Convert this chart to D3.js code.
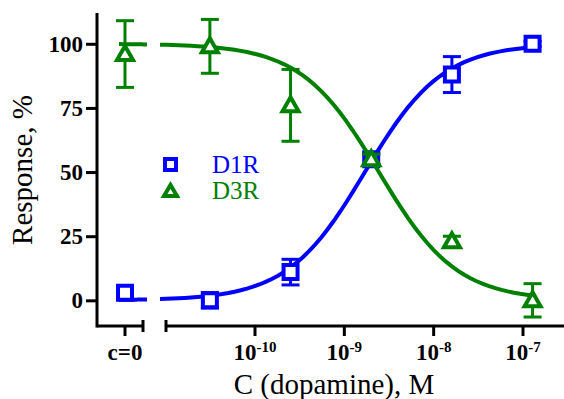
<!DOCTYPE html>
<html>
<head>
<meta charset="utf-8">
<script src="https://cdn.jsdelivr.net/npm/d3@7"></script>
<style>
  body { margin: 0; background: #fff; }
</style>
</head>
<body>
<script>
// dopamine concentrations, M (8-fold dilutions)
var concs = [3.125e-11, 2.5e-10, 2e-9, 1.6e-8, 1.28e-7];

// D1R response, %
var d1Zero = 3, d1ZeroErr = 1;
var d1Mean = [0, 11, 55, 88, 100];
var d1Err = [3, 5, 2, 7, 1];

// D3R response, %
var d3Zero = 96, d3ZeroErr = 13;
var d3Mean = [99, 76, 55, 23, 0];
var d3Err = [10.5, 14, 2, 2, 6.5];

// fitted dose-response parameters [bottom, top, logEC50, hill]
var d1Fit = [0, 100, -8.77, 1];
var d3Fit = [0, 100, -8.613, -1];

var yTicks = [0, 25, 50, 75, 100];
var xTicks = [1e-10, 1e-9, 1e-8, 1e-7];
var xTickExp = ['-10', '-9', '-8', '-7'];

var blue = '#0000ff', green = '#008000';
var serif = 'Liberation Serif';

var width = 564, height = 399;
var svg = d3.select('body').append('svg')
  .attr('width', width)
  .attr('height', height)
  .attr('font-family', serif);

var y = d3.scaleLinear().domain([-10, 112]).range([326, 13]);
var x = d3.scaleLog().domain([1e-10, 1e-7]).range([255, 523]);

// c=0 sits on the broken-off left part of the axis
var zeroX = 125;
var axisLeft = 97, breakL = 143, breakR = 166;
var axisY = y(-10);

// y axis
var yAxis = svg.append('g')
  .attr('transform', 'translate(' + axisLeft + ',0)')
  .call(d3.axisLeft(y).tickValues(yTicks).tickSize(11).tickPadding(3));
yAxis.attr('font-family', serif);
yAxis.select('.domain').remove();
yAxis.selectAll('line').attr('stroke-width', 3);
yAxis.selectAll('text')
  .attr('font-family', serif)
  .attr('font-size', 23).attr('font-weight', 'bold').attr('fill', '#000');
svg.append('line')
  .attr('x1', axisLeft).attr('x2', axisLeft)
  .attr('y1', y(112)).attr('y2', axisY + 1.5)
  .attr('stroke', '#000').attr('stroke-width', 3);

// x axis (broken)
var xa = svg.append('g').attr('stroke', '#000').attr('stroke-width', 3);
xa.append('line').attr('x1', axisLeft).attr('x2', breakL).attr('y1', axisY).attr('y2', axisY);
xa.append('line').attr('x1', breakR).attr('x2', width).attr('y1', axisY).attr('y2', axisY);
[breakL, breakR].forEach(function(bx) {
  xa.append('line').attr('x1', bx).attr('x2', bx).attr('y1', axisY - 6).attr('y2', axisY + 6);
});
xa.append('line').attr('x1', zeroX).attr('x2', zeroX).attr('y1', axisY).attr('y2', axisY + 10);
xTicks.forEach(function(t) {
  xa.append('line').attr('x1', x(t)).attr('x2', x(t)).attr('y1', axisY).attr('y2', axisY + 10);
});

svg.append('text')
  .attr('x', zeroX).attr('y', 360)
  .attr('text-anchor', 'middle')
  .attr('font-family', serif)
  .attr('font-size', 23).attr('font-weight', 'bold')
  .text('c=0');

xTicks.forEach(function(t, i) {
  var lbl = svg.append('text')
    .attr('x', x(t)).attr('y', 360)
    .attr('text-anchor', 'middle')
    .attr('font-family', serif)
    .attr('font-size', 23).attr('font-weight', 'bold');
  lbl.append('tspan').text('10');
  lbl.append('tspan').attr('font-size', 15).attr('dy', -8).text(xTickExp[i]);
});

// axis titles
svg.append('text')
  .attr('x', 334).attr('y', 394)
  .attr('text-anchor', 'middle')
  .attr('font-family', serif)
  .attr('font-size', 29)
  .text('C (dopamine), M');

svg.append('text')
  .attr('transform', 'translate(32,170) rotate(-90)')
  .attr('text-anchor', 'middle')
  .attr('font-family', serif)
  .attr('font-size', 29)
  .text('Response, %');

// markers
var sqPath = 'M-7,-7H7V7H-7Z';
var triPath = 'M0,-8L8,6H-8Z';

function hill(p, c) {
  return p[0] + (p[1] - p[0]) / (1 + Math.pow(10, (p[2] - Math.log10(c)) * p[3]));
}

function drawSeries(color, zeroVal, zeroErr, means, errs, fit, shape) {
  var g = svg.append('g');
  // curve: left piece near c=0, then the main piece after the break
  var pieces = [[x.invert(119), x.invert(147)], [x.invert(160), concs[concs.length - 1]]];
  pieces.forEach(function(pc) {
    var lo = Math.log10(pc[0]), hi = Math.log10(pc[1]);
    var pts = d3.range(0, 61).map(function(k) {
      var c = Math.pow(10, lo + (hi - lo) * k / 60);
      return [x(c), y(hill(fit, c))];
    });
    g.append('path')
      .attr('d', d3.line()(pts))
      .attr('fill', 'none')
      .attr('stroke', color)
      .attr('stroke-width', 4);
  });

  var pts = [{px: zeroX, v: zeroVal, e: zeroErr}].concat(concs.map(function(c, i) {
    return {px: x(c), v: means[i], e: errs[i]};
  }));

  // error bars
  pts.forEach(function(d) {
    var eb = g.append('g').attr('stroke', color).attr('stroke-width', 3);
    eb.append('line').attr('x1', d.px).attr('x2', d.px).attr('y1', y(d.v + d.e)).attr('y2', y(d.v - d.e));
    eb.append('line').attr('x1', d.px - 9).attr('x2', d.px + 9).attr('y1', y(d.v + d.e)).attr('y2', y(d.v + d.e));
    eb.append('line').attr('x1', d.px - 9).attr('x2', d.px + 9).attr('y1', y(d.v - d.e)).attr('y2', y(d.v - d.e));
  });

  g.selectAll('path.mk')
    .data(pts)
    .enter()
    .append('path')
    .attr('class', 'mk')
    .attr('d', shape)
    .attr('transform', function(d) { return 'translate(' + d.px + ',' + y(d.v) + ')'; })
    .attr('fill', '#fff')
    .attr('stroke', color)
    .attr('stroke-width', 4);
}

drawSeries(blue, d1Zero, d1ZeroErr, d1Mean, d1Err, d1Fit, sqPath);
drawSeries(green, d3Zero, d3ZeroErr, d3Mean, d3Err, d3Fit, triPath);

// legend
var legend = [['D1R', blue, 'M-5.5,-5.5H5.5V5.5H-5.5Z', 164.5], ['D3R', green, 'M0,-6L6.5,5H-6.5Z', 191]];
legend.forEach(function(l) {
  svg.append('path')
    .attr('d', l[2])
    .attr('transform', 'translate(170.5,' + l[3] + ')')
    .attr('fill', '#fff')
    .attr('stroke', l[1])
    .attr('stroke-width', 4);
  svg.append('text')
    .attr('x', 212).attr('y', l[3] + 8)
    .attr('font-family', serif)
    .attr('font-size', 25)
    .attr('fill', l[1])
    .text(l[0]);
});
</script>
</body>
</html>
